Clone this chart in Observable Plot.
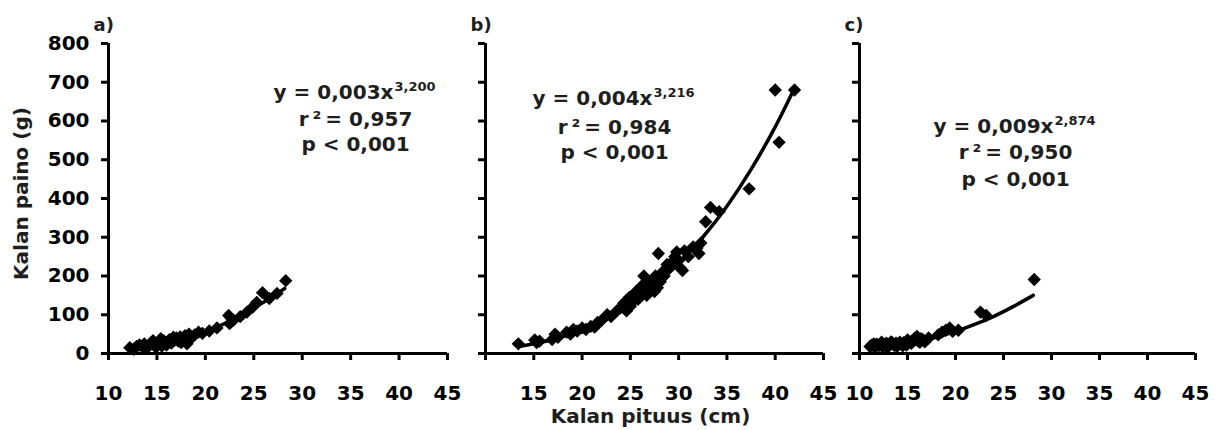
<!DOCTYPE html>
<html><head><meta charset="utf-8">
<script src="https://cdn.jsdelivr.net/npm/d3@7"></script>
<script src="https://cdn.jsdelivr.net/npm/@observablehq/plot@0.6"></script>
<style>
body{margin:0;background:#fff;}
#wrap{position:relative;width:1222px;height:430px;overflow:hidden;}
#wrap > div{position:absolute;top:0;}
</style></head><body>
<div id="wrap"><div id="pa" style="left:0px"></div><div id="pb" style="left:460px"></div><div id="pc" style="left:836px"></div></div>
<script>
// ---- data ----
const xTicks = [10, 15, 20, 25, 30, 35, 40, 45];
const yTicks = [0, 100, 200, 300, 400, 500, 600, 700, 800];
const panelTags = ["a)", "b)", "c)"];
const eqMain = ["y = 0,003x", "y = 0,004x", "y = 0,009x"];
const eqExp = ["3,200", "3,216", "2,874"];
const r2Text = ["r\u2009²\u2009= 0,957", "r\u2009²\u2009= 0,984", "r\u2009²\u2009= 0,950"];
const pText = ["p < 0,001", "p < 0,001", "p < 0,001"];
const xTitle = "Kalan pituus (cm)";
const yTitle = "Kalan paino (g)";

// panel a
const aLen = [12.2,12.6,12.9,13.2,13.5,13.7,13.9,14.2,14.4,14.6,14.7,14.9,15.1,15.3,15.4,15.5,15.7,15.9,16.0,16.1,16.3,16.5,16.7,16.8,17.0,17.2,17.4,17.5,17.7,17.9,18.1,18.3,18.4,18.6,18.9,19.3,19.7,20.4,21.2,22.4,22.5,22.9,23.6,24.3,24.9,25.3,25.9,26.6,27.4,28.3];
const aWeight = [15,11,18,22,18,25,13,20,28,33,23,16,26,30,38,19,33,26,22,30,36,27,42,34,40,32,43,28,37,46,25,50,36,43,48,55,52,58,66,98,77,86,95,107,120,132,157,142,155,188];
const aFitLen = [12,14,16,18,20,22,24,26,28.2];
const aFitWeight = [11,18,28,41,57,77,102,132,168];

// panel b
const bLen = [13.4,15.1,15.3,15.6,16.9,17.2,17.5,18.4,18.8,19.1,19.5,20.0,20.4,20.9,21.3,21.6,22.0,22.6,23.0,23.6,24.0,24.3,24.6,24.9,25.0,25.3,25.6,25.8,26.0,26.2,26.4,26.5,26.7,26.9,27.1,27.3,27.5,27.6,27.8,27.9,28.1,28.3,28.5,28.8,29.0,29.3,29.6,29.8,30.0,30.2,30.4,30.6,31.0,31.5,31.9,32.1,32.3,32.8,33.3,34.2,37.3,40.0,40.4,42.0];
const bWeight = [25,35,28,32,36,50,42,55,50,62,58,66,62,70,68,80,85,100,95,110,118,130,110,145,122,135,160,140,150,175,200,165,150,180,170,190,160,200,170,258,185,210,200,230,220,235,250,262,240,220,214,265,250,275,272,258,285,340,377,366,425,680,545,680];
const bFitLen = [13.4,15,17.5,20,22.5,25,27.5,30,32.5,35,37.5,40,42];
const bFitWeight = [18,25,40,63,92,129,175,232,300,380,475,585,685];

// panel c
const cLen = [11.1,11.3,11.5,11.6,11.8,12.0,12.2,12.3,12.4,12.6,12.8,12.9,13.0,13.2,13.3,13.4,13.6,13.8,13.9,14.0,14.2,14.4,14.5,14.6,14.9,15.0,15.2,15.4,15.5,15.7,15.9,16.0,16.1,16.3,16.4,16.6,16.8,17.2,18.2,18.6,19.0,19.4,19.7,20.3,22.6,23.2,28.2];
const cWeight = [18,22,25,16,24,20,26,29,17,23,27,15,19,25,30,28,21,27,18,23,29,24,20,28,22,35,30,26,33,38,42,44,32,29,38,36,30,40,48,55,60,66,57,60,107,98,191];
const cFitLen = [11,12,14,16,18,20,22,24,26,28.1];
const cFitWeight = [10,13,20,30,42,57,75,96,121,150];

// ---- drawing ----
const TXT = "#1e1e1e";
function panel(o) {
  const pts = o.len.map((v, i) => ({len: v, w: o.weight[i]}));
  const fit = o.fitLen.map((v, i) => ({len: v, w: o.fitWeight[i]}));
  const marks = [
    Plot.ruleY([0], {stroke: "black", strokeWidth: 3}),
    Plot.ruleX([10], {stroke: "black", strokeWidth: 3}),
    Plot.axisX({ticks: xTicks, tickSize: 7, tickPadding: 25, fontSize: 20, strokeWidth: 3, label: null, tickFormat: o.xFmt}),
    Plot.axisY({ticks: yTicks, tickSize: 7, tickPadding: 12, fontSize: 20, strokeWidth: 3, label: null, tickFormat: o.yFmt}),
    Plot.line(fit, {x: "len", y: "w", stroke: "black", strokeWidth: 3.5, curve: "monotone-x"}),
    Plot.dot(pts, {x: "len", y: "w", symbol: "diamond2", r: 6, fill: "black", stroke: "none"}),
    Plot.text([o.tag], {frameAnchor: "top-left", dx: -15, dy: -13, textAnchor: "start", lineAnchor: "bottom", fontSize: 18, fill: TXT}),
    Plot.text([o.eq], {frameAnchor: "top-left", dx: o.cx + 38, dy: o.b[0], textAnchor: "end", lineAnchor: "bottom", fontSize: 20, fill: TXT}),
    Plot.text([o.exp], {frameAnchor: "top-left", dx: o.cx + 39, dy: o.b[0] - 8, textAnchor: "start", lineAnchor: "bottom", fontSize: 13, fill: TXT}),
    Plot.text([o.r2], {frameAnchor: "top-left", dx: o.cx, dy: o.b[1], textAnchor: "middle", lineAnchor: "bottom", fontSize: 20, fill: TXT}),
    Plot.text([o.p], {frameAnchor: "top-left", dx: o.cx, dy: o.b[2], textAnchor: "middle", lineAnchor: "bottom", fontSize: 20, fill: TXT})
  ];
  if (o.yTitle) marks.push(Plot.text([o.yTitle], {frameAnchor: "left", rotate: -90, dx: -81, dy: -5, textAnchor: "middle", lineAnchor: "bottom", fontSize: 20, fill: TXT}));
  if (o.xTitle) marks.push(Plot.text([o.xTitle], {frameAnchor: "bottom", dx: -4, dy: 69, textAnchor: "middle", lineAnchor: "bottom", fontSize: 20, fill: TXT}));
  const svg = Plot.plot({
    width: o.width, height: 430,
    marginLeft: o.ml, marginRight: o.mr, marginTop: 43, marginBottom: 77,
    x: {domain: [10, 45]},
    y: {domain: [0, 800]},
    style: {fontFamily: "'DejaVu Sans', sans-serif", fontWeight: "bold", color: "black", background: "transparent", overflow: "visible"},
    marks
  });
  document.getElementById(o.id).appendChild(svg);
}

panel({id: "pa", width: 460, ml: 108, mr: 13, len: aLen, weight: aWeight, fitLen: aFitLen, fitWeight: aFitWeight,
  tag: panelTags[0], eq: eqMain[0], exp: eqExp[0], r2: r2Text[0], p: pText[0], cx: 247, b: [55, 82, 107],
  xFmt: d => String(d), yFmt: d => String(d), yTitle: yTitle});
panel({id: "pb", width: 376, ml: 25, mr: 13, len: bLen, weight: bWeight, fitLen: bFitLen, fitWeight: bFitWeight,
  tag: panelTags[1], eq: eqMain[1], exp: eqExp[1], r2: r2Text[1], p: pText[1], cx: 129, b: [61, 90, 115],
  xFmt: d => d === 10 ? "" : String(d), yFmt: () => "", xTitle: xTitle});
panel({id: "pc", width: 386, ml: 23, mr: 27, len: cLen, weight: cWeight, fitLen: cFitLen, fitWeight: cFitWeight,
  tag: panelTags[2], eq: eqMain[2], exp: eqExp[2], r2: r2Text[2], p: pText[2], cx: 156, b: [89, 115, 142],
  xFmt: d => String(d), yFmt: () => ""});
</script>
</body></html>
